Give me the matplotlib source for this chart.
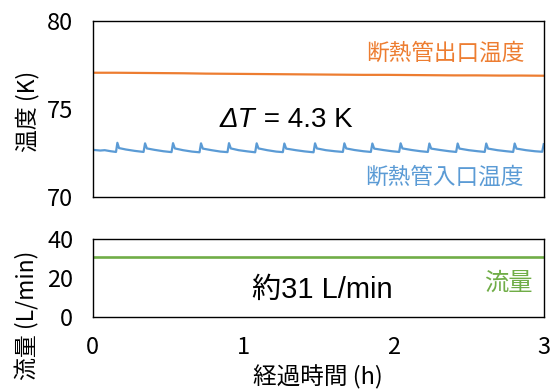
import matplotlib
matplotlib.use("Agg")
import matplotlib.pyplot as plt
from matplotlib.text import Annotation

plt.rcParams['font.family'] = ['Noto Sans CJK JP', 'DejaVu Sans']

# ---- data ----
outlet_t = [0.00, 0.15, 0.30, 0.45, 0.60, 0.75, 0.90, 1.05, 1.20, 1.35, 1.50,
            1.65, 1.80, 1.95, 2.10, 2.25, 2.40, 2.55, 2.70, 2.85, 3.00]
outlet_T = [77.06, 77.06, 77.05, 77.04, 77.03, 77.01, 77.00, 76.99, 76.98, 76.97, 76.96,
            76.95, 76.94, 76.94, 76.93, 76.92, 76.91, 76.91, 76.90, 76.90, 76.89]

inlet_t = [0.000, 0.050, 0.080, 0.120, 0.155,
           0.164, 0.175, 0.220, 0.280, 0.338,
           0.348, 0.360, 0.410, 0.470, 0.524,
           0.534, 0.546, 0.600, 0.660, 0.710,
           0.720, 0.732, 0.790, 0.850, 0.896,
           0.906, 0.918, 0.970, 1.030, 1.080,
           1.090, 1.102, 1.160, 1.220, 1.264,
           1.274, 1.286, 1.350, 1.410, 1.468,
           1.478, 1.490, 1.550, 1.610, 1.663,
           1.673, 1.685, 1.740, 1.800, 1.849,
           1.859, 1.871, 1.930, 1.990, 2.037,
           2.047, 2.059, 2.120, 2.180, 2.228,
           2.238, 2.250, 2.310, 2.370, 2.416,
           2.426, 2.438, 2.500, 2.560, 2.606,
           2.616, 2.628, 2.690, 2.750, 2.795,
           2.805, 2.817, 2.880, 2.940, 2.988,
           2.998]
inlet_T = [72.68, 72.64, 72.66, 72.60, 72.56,
           73.08, 72.78, 72.70, 72.62, 72.56,
           73.05, 72.76, 72.68, 72.60, 72.55,
           73.06, 72.76, 72.66, 72.58, 72.54,
           73.05, 72.75, 72.66, 72.58, 72.55,
           73.06, 72.76, 72.66, 72.59, 72.54,
           73.05, 72.76, 72.66, 72.58, 72.55,
           73.04, 72.75, 72.66, 72.59, 72.54,
           73.05, 72.76, 72.66, 72.60, 72.56,
           73.05, 72.76, 72.67, 72.60, 72.56,
           73.04, 72.75, 72.67, 72.60, 72.56,
           73.05, 72.76, 72.67, 72.60, 72.56,
           73.04, 72.75, 72.67, 72.60, 72.56,
           73.04, 72.75, 72.66, 72.60, 72.56,
           73.04, 72.75, 72.66, 72.60, 72.56,
           73.04, 72.75, 72.66, 72.60, 72.57,
           73.00]

flow_t = [0.0, 3.0]
flow_v = [31.0, 31.0]

x_ticks = [0, 1, 2, 3]
temp_ticks = [70, 75, 80]
flow_ticks = [0, 20, 40]

c_orange = '#ED7D31'
c_blue = '#5B9BD5'
c_green = '#70AD47'

W, H = 550, 392
fig = plt.figure(figsize=(5.5, 3.92), dpi=100)

def rect(l, t, r, b):
    return [l / W, 1 - b / H, (r - l) / W, (b - t) / H]

ax1 = fig.add_axes(rect(92.7, 21, 544, 197))
ax2 = fig.add_axes(rect(92.7, 239, 544, 317))

ax1.plot(outlet_t, outlet_T, color=c_orange, lw=1.6)
ax1.plot(inlet_t, inlet_T, color=c_blue, lw=1.6)
ax2.plot(flow_t, flow_v, color=c_green, lw=1.9)

ax1.set_xlim(0, 3)
ax1.set_ylim(70, 80)
ax1.set_yticks(temp_ticks)
ax1.set_xticks(x_ticks)
ax1.tick_params(axis='x', labelbottom=False, length=0)
ax1.tick_params(axis='y', length=0, pad=14, labelsize=17)

ax2.set_xlim(0, 3)
ax2.set_ylim(0, 40)
ax2.set_yticks(flow_ticks)
ax2.set_xticks(x_ticks)
ax2.tick_params(axis='both', length=0, pad=14, labelsize=17)

for ax in (ax1, ax2):
    for s in ax.spines.values():
        s.set_color('black')
        s.set_linewidth(1.0)

# axis labels
fig.text(27.5 / W, 1 - 111 / H, '温度 (K)', rotation=90, ha='center', va='center', fontsize=16.5)
fig.text(27.5 / W, 1 - 315 / H, '流量 (L/min)', rotation=90, ha='center', va='center', fontsize=16.5)
fig.text(318 / W, 1 - 377 / H, '経過時間 (h)', ha='center', va='center', fontsize=17)

# annotations
fig.text(525 / W, 1 - 53 / H, '断熱管出口温度', color=c_orange, ha='right', va='center', fontsize=16.3)
fig.text(524 / W, 1 - 177 / H, '断熱管入口温度', color=c_blue, ha='right', va='center', fontsize=16.3)
fig.text(533 / W, 1 - 283 / H, '流量', color=c_green, ha='right', va='center', fontsize=17.5)

latin = ['Liberation Sans', 'Noto Sans CJK JP', 'DejaVu Sans']
t1 = fig.text(220 / W, 1 - 127 / H, 'ΔT', family=latin, style='italic', fontsize=20,
              ha='left', va='baseline')
fig.add_artist(Annotation(' = 4.3 K', xy=(1, 0), xycoords=t1, ha='left', va='bottom',
                          fontsize=20, family=latin))

fig.text(252 / W, 1 - 298 / H, '約31 L/min', family=latin, fontsize=21, ha='left', va='baseline')

fig.savefig('out.png', dpi=100)
